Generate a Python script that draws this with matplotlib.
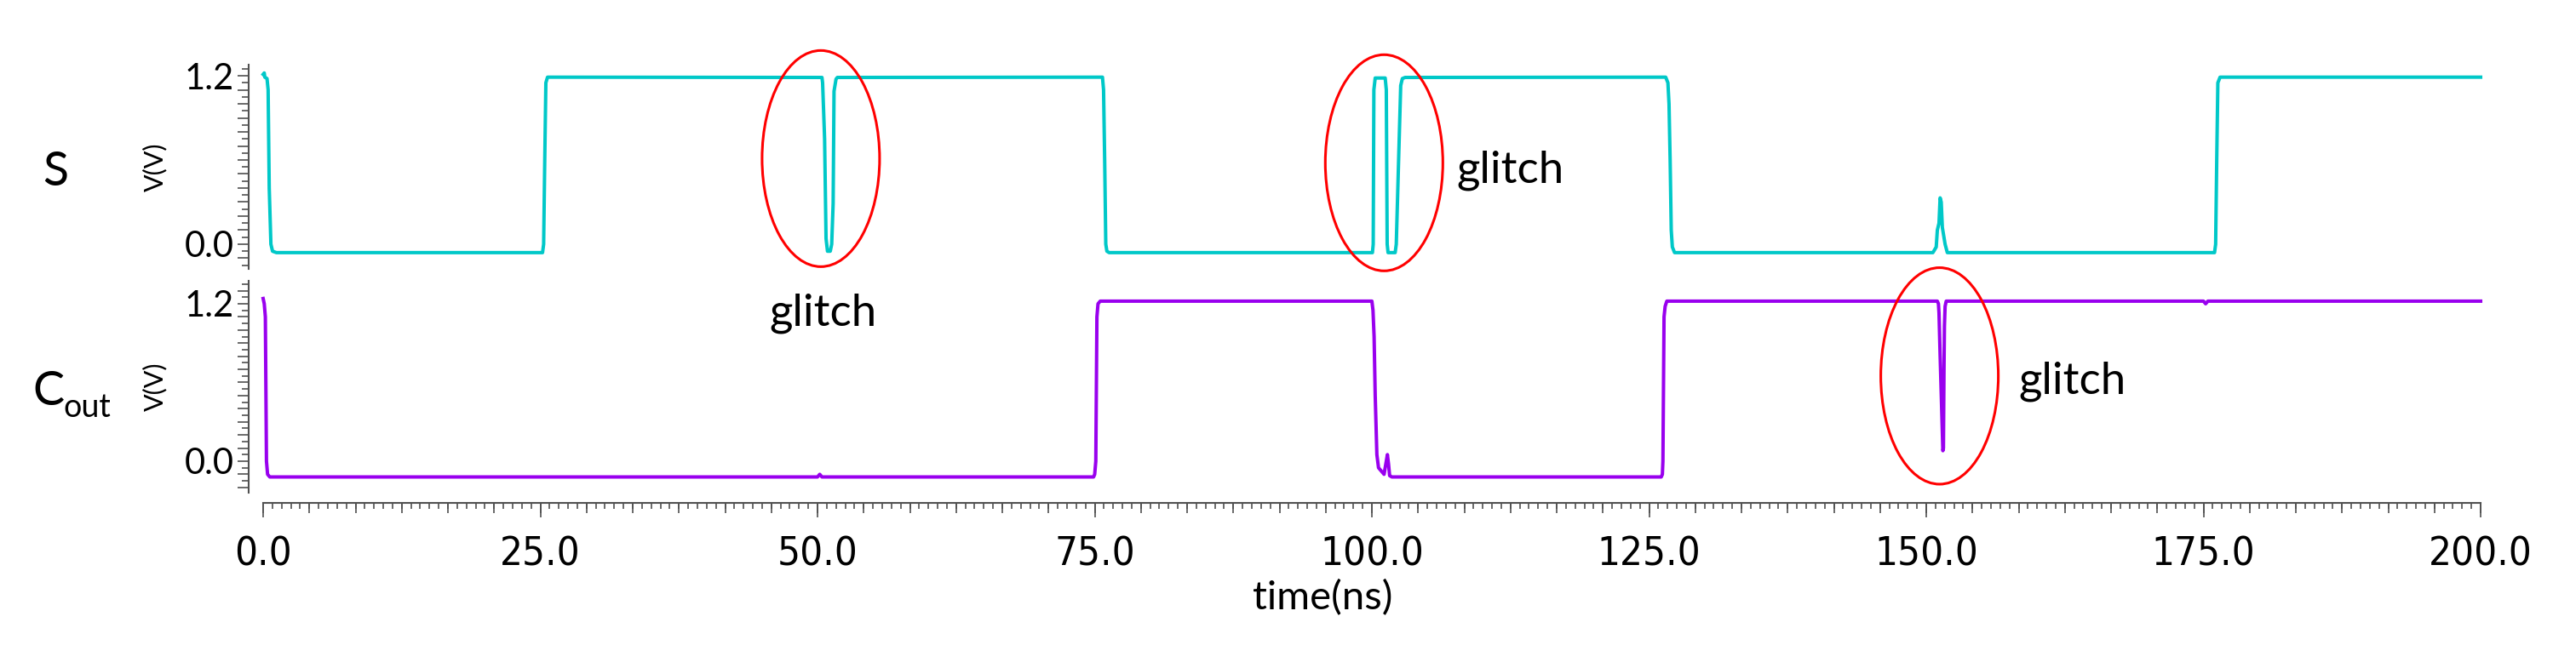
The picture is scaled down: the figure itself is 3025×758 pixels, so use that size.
import numpy as np
import matplotlib
matplotlib.use("Agg")
import matplotlib.pyplot as plt
from matplotlib import font_manager
from matplotlib.patches import Ellipse
from matplotlib.ticker import MultipleLocator, FuncFormatter, NullFormatter

plt.rcParams['font.family'] = ['Lato', 'DejaVu Sans']

# waveform breakpoints (time in ns, voltage in V)
s_t = [0.0, 0.1, 0.15, 0.35, 0.45, 0.55, 0.7, 0.85, 1.2,
       25.2, 25.3, 25.4, 25.5, 25.65,
       50.4, 50.46, 50.64, 50.77, 50.9, 51.15, 51.28, 51.41, 51.49, 51.67, 51.79,
       75.7, 75.8, 75.9, 76.0, 76.1, 76.3,
       100.05, 100.12, 100.18, 100.3, 101.2, 101.3, 101.38, 101.46,
       102.1, 102.2, 102.5, 102.6, 102.75, 103.0,
       126.5, 126.7, 126.8, 126.9, 127.0, 127.1, 127.3,
       150.6, 150.9, 151.0, 151.15, 151.25, 151.35, 151.45, 151.7, 151.9,
       176.0, 176.1, 176.2, 176.3, 176.5, 200.0]
s_v = [1.21, 1.22, 1.19, 1.18, 1.1, 0.4, 0.0, -0.05, -0.06,
       -0.06, 0.0, 0.6, 1.15, 1.19,
       1.188, 1.15, 0.75, 0.04, -0.05, -0.05, 0.0, 0.29, 1.09, 1.176, 1.188,
       1.19, 1.1, 0.6, 0.0, -0.05, -0.06,
       -0.06, 0.0, 1.1, 1.184, 1.184, 1.1, 0.0, -0.06,
       -0.06, 0.0, 0.85, 1.13, 1.18, 1.188,
       1.19, 1.15, 1.0, 0.6, 0.1, -0.02, -0.06,
       -0.06, -0.02, 0.1, 0.15, 0.33, 0.3, 0.12, 0.0, -0.06,
       -0.06, 0.0, 0.6, 1.15, 1.19, 1.19]

cout_t = [0.0, 0.1, 0.2, 0.3, 0.4, 0.6,
          50.0, 50.2, 50.4, 50.6,
          74.9, 75.0, 75.1, 75.2, 75.3, 75.5,
          100.0, 100.1, 100.2, 100.3, 100.45, 100.6, 100.9, 101.1, 101.3, 101.4, 101.5, 101.6, 101.8,
          126.1, 126.2, 126.25, 126.35, 126.45, 126.6,
          151.0, 151.1, 151.15, 151.25, 151.5, 151.55, 151.6, 151.64, 151.7, 151.8,
          175.0, 175.2, 175.4, 200.0]
cout_v = [1.24, 1.2, 1.1, 0.0, -0.1, -0.12,
          -0.12, -0.1, -0.12, -0.12,
          -0.12, -0.1, 0.0, 1.1, 1.2, 1.22,
          1.22, 1.15, 0.95, 0.5, 0.05, -0.05, -0.08, -0.1, 0.0, 0.05, -0.02, -0.11, -0.12,
          -0.12, -0.1, 0.0, 1.1, 1.18, 1.22,
          1.22, 1.2, 1.13, 0.81, 0.08, 0.1, 0.7, 1.03, 1.18, 1.22,
          1.22, 1.2, 1.22, 1.22]

# glitch markers: which panel, centre time, centre voltage
glitch_panel = ["S", "S", "Cout"]
glitch_t = [50.3, 101.1, 151.2]
glitch_v = [0.61, 0.58, 0.65]

W, H = 3025, 758
fig = plt.figure(figsize=(W / 100, H / 100), dpi=100)

def px_box(left, top, right, bottom):
    return [left / W, 1 - bottom / H, (right - left) / W, (bottom - top) / H]

ax_s = fig.add_axes(px_box(309, 76, 2913, 316))
ax_c = fig.add_axes(px_box(309, 330, 2913, 579))

ax_s.plot(s_t, s_v, color="#00C8C8", lw=2.9, clip_on=False)
ax_c.plot(cout_t, cout_v, color="#9900EE", lw=2.9, clip_on=False)

ax_s.set_ylim(-0.176, 1.279)
ax_c.set_ylim(-0.24, 1.375)

spine_col = "#505050"


def ylab(v, pos):
    if abs(v) < 1e-6 or abs(v - 1.2) < 1e-6:
        return "%.1f" % v
    return ""


for ax in (ax_s, ax_c):
    ax.set_xlim(0, 200)
    for side in ("top", "right", "bottom"):
        ax.spines[side].set_visible(False)
    ax.spines["left"].set_position(("outward", 12))
    ax.spines["left"].set_color(spine_col)
    ax.spines["left"].set_linewidth(1.5)
    ax.yaxis.set_major_locator(MultipleLocator(0.1))
    ax.yaxis.set_minor_locator(MultipleLocator(0.05))
    ax.yaxis.set_major_formatter(FuncFormatter(ylab))
    ax.tick_params(axis="y", which="major", length=9.5, width=1.2, color=spine_col,
                   labelsize=30, pad=3)
    ax.tick_params(axis="y", which="minor", length=6, width=1.2, color=spine_col)
    ax.set_ylabel("V(V)", fontsize=22, labelpad=15)

ax_s.tick_params(axis="x", which="both", bottom=False, labelbottom=False)

# time axis under the Cout panel
ax_c.spines["bottom"].set_visible(True)
ax_c.spines["bottom"].set_position(("outward", 8.6))
ax_c.spines["bottom"].set_color(spine_col)
ax_c.spines["bottom"].set_linewidth(1.5)
ax_c.xaxis.set_major_locator(MultipleLocator(25))
ax_c.xaxis.set_minor_locator(MultipleLocator(25 / 30))
ax_c.xaxis.set_major_formatter(FuncFormatter(lambda v, p: "%.1f" % v))
ax_c.tick_params(axis="x", which="major", length=12, width=1.2, color=spine_col,
                 labelsize=34, pad=16)
ax_c.tick_params(axis="x", which="minor", length=5, width=1.2, color=spine_col)

# narrow face for the time tick labels, if one is installed
narrow = None
for f in font_manager.fontManager.ttflist:
    if f.name in ("Liberation Sans Narrow", "DejaVu Sans Condensed"):
        narrow = f.name
        break
    if f.name == "DejaVu Sans" and "ondensed" in str(f.stretch) and f.weight in (400, "normal"):
        narrow = "DejaVu Sans"
for lab in ax_c.get_xticklabels():
    if narrow:
        lab.set_family([narrow, "DejaVu Sans"])
        lab.set_stretch("condensed")
    else:
        lab.set_family(["Lato", "DejaVu Sans"])

ax_c.set_xlabel("time(ns)", fontsize=34)
ax_c.xaxis.set_label_coords((1553 - 309) / 2604, -0.41)

ax_m = ax_c.twiny()
ax_m.set_xlim(0, 200)
for side in ("top", "right", "left"):
    ax_m.spines[side].set_visible(False)
ax_m.spines["bottom"].set_position(("outward", 8.6))
ax_m.spines["bottom"].set_visible(False)
ax_m.xaxis.set_ticks_position("bottom")
ax_m.xaxis.set_major_locator(MultipleLocator(25 / 6))
ax_m.xaxis.set_major_formatter(NullFormatter())
ax_m.tick_params(axis="x", length=8.6, width=1.2, color=spine_col)

# red ellipses around the glitches
panels = {"S": (ax_s, 1.54), "Cout": (ax_c, 1.65)}
for name, t0, v0 in zip(glitch_panel, glitch_t, glitch_v):
    ax, h = panels[name]
    ax.add_patch(Ellipse((t0, v0), 10.6, h, fill=False, edgecolor="#FF0000",
                         lw=2.2, clip_on=False, zorder=5))

fig.text(903 / W, 1 - 368 / H, "glitch", fontsize=38, ha="left", va="center")
fig.text(1710 / W, 1 - 200 / H, "glitch", fontsize=38, ha="left", va="center")
fig.text(2370 / W, 1 - 448 / H, "glitch", fontsize=38, ha="left", va="center")

# node names
fig.text(50 / W, 1 - 218 / H, "S", fontsize=40, ha="left", va="baseline")
fig.text(38 / W, 1 - 476 / H, "C", fontsize=40, ha="left", va="baseline")
fig.text(74 / W, 1 - 490 / H, "out", fontsize=27, ha="left", va="baseline")

fig.savefig("out.png", dpi=100)
